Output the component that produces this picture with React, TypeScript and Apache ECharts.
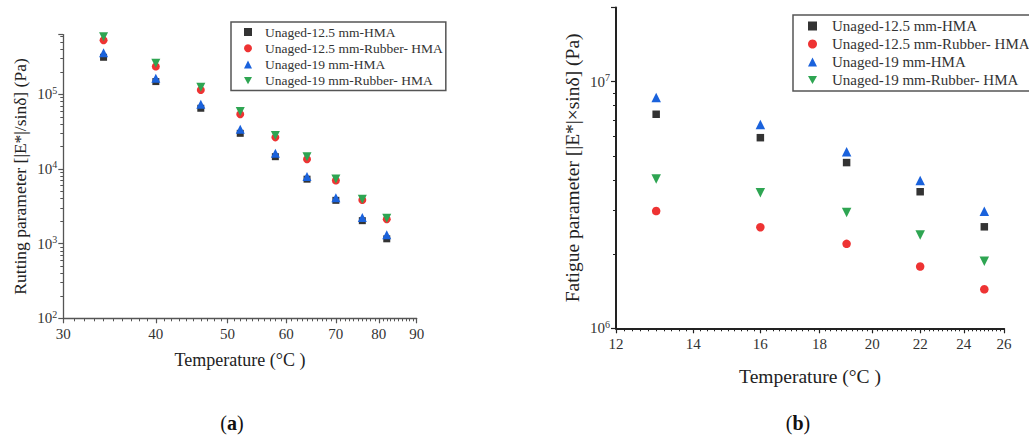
import React, { useEffect, useRef } from "react";
import * as echarts from "echarts";

// ---------- data ----------
const SERIES_NAMES = [
  "Unaged-12.5 mm-HMA",
  "Unaged-12.5 mm-Rubber- HMA",
  "Unaged-19 mm-HMA",
  "Unaged-19 mm-Rubber- HMA",
];

// (a) rutting parameter
const TEMP_A = [34, 40, 46, 52, 58, 64, 70, 76, 82];
const RUT_125_HMA = [3.13e5, 1.48e5, 6.5e4, 3.0e4, 1.46e4, 7.3e3, 3.8e3, 2.03e3, 1.16e3];
const RUT_125_RUB = [5.3e5, 2.35e5, 1.14e5, 5.4e4, 2.65e4, 1.35e4, 7.0e3, 3.85e3, 2.12e3];
const RUT_19_HMA = [3.6e5, 1.64e5, 7.35e4, 3.4e4, 1.62e4, 7.9e3, 4.13e3, 2.23e3, 1.31e3];
const RUT_19_RUB = [5.9e5, 2.6e5, 1.24e5, 5.87e4, 2.8e4, 1.46e4, 7.35e3, 3.93e3, 2.18e3];

// (b) fatigue parameter
const TEMP_B = [13, 16, 19, 22, 25];
const FAT_125_HMA = [7.38e6, 5.93e6, 4.7e6, 3.58e6, 2.58e6];
const FAT_125_RUB = [2.99e6, 2.57e6, 2.2e6, 1.78e6, 1.44e6];
const FAT_19_HMA = [8.64e6, 6.71e6, 5.2e6, 3.98e6, 2.98e6];
const FAT_19_RUB = [4.03e6, 3.55e6, 2.95e6, 2.39e6, 1.87e6];

// axis ticks
const X_TICKS_A = [30, 40, 50, 60, 70, 80, 90];
const X_TICKS_B = [12, 14, 16, 18, 20, 22, 24, 26];
const X_RANGE_A = [30, 90];
const X_RANGE_B = [12, 26];
const Y_RANGE_A = [1e2, 6.3e5];
const Y_RANGE_B = [1e6, 2e7];

// ---------- helpers ----------
const FONT = "Liberation Serif";
const lg = (v: number) => Math.log10(v);

function minorRange(lo: number, hi: number, step: number, majors: number[]) {
  const out: number[] = [];
  const n = Math.round((hi - lo) / step);
  for (let i = 0; i <= n; i++) {
    const v = Math.round((lo + i * step) * 1000) / 1000;
    if (!majors.some((m) => Math.abs(m - v) < 1e-6)) out.push(lg(v));
  }
  return out;
}
function logMinor(lo: number, hi: number) {
  const out: number[] = [];
  for (let e = Math.floor(lg(lo)); e <= Math.ceil(lg(hi)); e++) {
    for (let k = 2; k <= 9; k++) {
      const v = k * Math.pow(10, e);
      if (v > lo && v <= hi) out.push(lg(v));
    }
  }
  return out;
}

const COLORS = ["#333333", "#EE3333", "#1A62DC", "#2EA552"];
const SYMBOLS = ["rect", "circle", "triangle", "triangle"];
const ROT = [0, 0, 0, 180];
const SIZES = [7, 8, 9, 9];
const LEGEND_ICONS = ["rect", "circle", "triangle", "path://M0,0 L10,0 L5,9 Z"];

function supLabel(v: number) {
  const e = Math.log10(v);
  if (Math.abs(e - Math.round(e)) > 1e-6) return "";
  return "{b|10}{s|" + Math.round(e) + "}";
}

export default function App() {
  const ref = useRef<HTMLDivElement>(null);

  useEffect(() => {
    if (!ref.current) return;
    const chart = echarts.init(ref.current, undefined, { renderer: "svg" });

    const axisLabelRich = {
      b: { fontFamily: FONT, fontSize: 15, color: "#333", lineHeight: 18 },
      s: { fontFamily: FONT, fontSize: 10, color: "#333", lineHeight: 10, verticalAlign: "top" },
    };

    const makeX = (grid: number, range: number[], ticks: number[], lineW: number, lineC: string, nameGap: number, nameSize: number) => [
      {
        type: "value",
        gridIndex: grid,
        position: "bottom",
        min: lg(range[0]),
        max: lg(range[1]),
        name: "Temperature (°C )",
        nameLocation: "middle",
        nameGap,
        nameTextStyle: { fontFamily: FONT, fontSize: nameSize, color: "#222" },
        axisLine: { show: true, lineStyle: { color: lineC, width: lineW } },
        axisTick: { show: true, length: 5, customValues: ticks.map(lg), lineStyle: { color: lineC, width: 1.2 } },
        axisLabel: {
          show: true,
          customValues: ticks.map(lg),
          formatter: (v: number) => String(Math.round(Math.pow(10, v))),
          fontFamily: FONT,
          fontSize: 15,
          color: "#333",
          margin: 8,
        },
        splitLine: { show: false },
      },
      {
        type: "value",
        gridIndex: grid,
        position: "bottom",
        min: lg(range[0]),
        max: lg(range[1]),
        axisLine: { show: false },
        axisTick: {
          show: true,
          length: 3,
          customValues: minorRange(range[0], range[1], grid === 0 ? 1 : 0.2, ticks),
          lineStyle: { color: lineC, width: 1 },
        },
        axisLabel: { show: false },
        splitLine: { show: false },
      },
    ];

    const makeY = (grid: number, range: number[], name: string, lineW: number, lineC: string, nameGap: number, nameSize: number) => [
      {
        type: "log",
        logBase: 10,
        gridIndex: grid,
        position: "left",
        min: range[0],
        max: range[1],
        interval: 1,
        name,
        nameLocation: "middle",
        nameGap,
        nameTextStyle: { fontFamily: FONT, fontSize: nameSize, color: "#222" },
        axisLine: { show: true, lineStyle: { color: lineC, width: lineW } },
        axisTick: { show: true, length: 5, lineStyle: { color: lineC, width: 1.2 } },
        axisLabel: {
          show: true,
          formatter: supLabel,
          rich: axisLabelRich,
          margin: 6,
        },
        splitLine: { show: false },
      },
      {
        type: "value",
        gridIndex: grid,
        position: "left",
        min: lg(range[0]),
        max: lg(range[1]),
        axisLine: { show: false },
        axisTick: { show: true, length: 3, customValues: logMinor(range[0], range[1]), lineStyle: { color: lineC, width: 1 } },
        axisLabel: { show: false },
        splitLine: { show: false },
      },
    ];

    const seriesA = [RUT_125_HMA, RUT_125_RUB, RUT_19_HMA, RUT_19_RUB].map((vals, i) => ({
      type: "scatter",
      name: SERIES_NAMES[i],
      xAxisIndex: 0,
      yAxisIndex: 0,
      symbol: SYMBOLS[i],
      symbolRotate: ROT[i],
      symbolSize: SIZES[i],
      itemStyle: { color: COLORS[i], opacity: 1 },
      data: TEMP_A.map((t, j) => [lg(t), vals[j]]),
    }));
    const seriesB = [FAT_125_HMA, FAT_125_RUB, FAT_19_HMA, FAT_19_RUB].map((vals, i) => ({
      type: "scatter",
      name: SERIES_NAMES[i],
      xAxisIndex: 2,
      yAxisIndex: 2,
      symbol: SYMBOLS[i],
      symbolRotate: ROT[i],
      symbolSize: SIZES[i] + 0.5,
      itemStyle: { color: COLORS[i], opacity: 1 },
      data: TEMP_B.map((t, j) => [lg(t), vals[j]]),
    }));

    const legendData = SERIES_NAMES.map((n, i) => ({ name: n, icon: LEGEND_ICONS[i] }));
    const legendBase = {
      orient: "vertical",
      selectedMode: false,
      data: legendData,
      borderColor: "#555",
      borderWidth: 1.5,
      backgroundColor: "#fff",
    };

    chart.setOption({
      animation: false,
      backgroundColor: "#fff",
      grid: [
        { left: 63.3, top: 34.6, width: 353.4, height: 283.7, containLabel: false },
        { left: 616, top: 7.5, width: 388, height: 320.8, containLabel: false },
      ],
      xAxis: [
        ...makeX(0, X_RANGE_A, X_TICKS_A, 1.3, "#555", 33, 18),
        ...makeX(1, X_RANGE_B, X_TICKS_B, 2, "#222", 38, 19.5),
      ],
      yAxis: [
        ...makeY(0, Y_RANGE_A, "Rutting parameter [|E*|/sinδ] (Pa)", 1.3, "#555", 34, 17.5),
        ...makeY(1, Y_RANGE_B, "Fatigue parameter [|E*|×sinδ] (Pa)", 2, "#222", 34, 19.5),
      ],
      legend: [
        {
          ...legendBase,
          left: 231,
          top: 22,
          padding: [3, 3, 3, 13],
          itemWidth: 8,
          itemHeight: 8,
          itemGap: 2.2,
          textStyle: { fontFamily: FONT, fontSize: 13.5, color: "#333", lineHeight: 14, padding: [0, 0, 0, 8] },
        },
        {
          ...legendBase,
          left: 793,
          top: 15,
          padding: [3, 6, 3, 15],
          itemWidth: 9,
          itemHeight: 9,
          itemGap: 2,
          textStyle: { fontFamily: FONT, fontSize: 15, color: "#333", lineHeight: 16, padding: [0, 0, 0, 10] },
        },
      ],
      graphic: [
        {
          type: "text",
          x: 232,
          y: 423,
          style: {
            text: "{n|(}{b|a}{n|)}",
            align: "center",
            verticalAlign: "middle",
            textAlign: "center",
            textVerticalAlign: "middle",
            rich: {
              n: { fontFamily: FONT, fontSize: 20, fill: "#111", color: "#111" },
              b: { fontFamily: FONT, fontSize: 20, fontWeight: "bold", fill: "#111", color: "#111" },
            },
          },
        },
        {
          type: "text",
          x: 798,
          y: 423,
          style: {
            text: "{n|(}{b|b}{n|)}",
            align: "center",
            verticalAlign: "middle",
            textAlign: "center",
            textVerticalAlign: "middle",
            rich: {
              n: { fontFamily: FONT, fontSize: 20, fill: "#111", color: "#111" },
              b: { fontFamily: FONT, fontSize: 20, fontWeight: "bold", fill: "#111", color: "#111" },
            },
          },
        },
      ],
      series: [...seriesA, ...seriesB],
    });

    return () => chart.dispose();
  }, []);

  return (
    <div
      ref={ref}
      style={{ position: "fixed", left: 0, top: 0, width: 1029, height: 446, background: "#fff" }}
    />
  );
}
